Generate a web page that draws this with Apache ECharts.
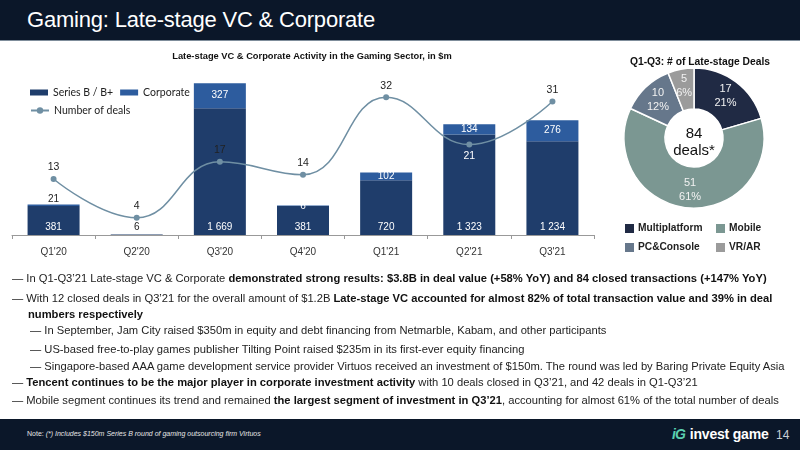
<!DOCTYPE html>
<html>
<head>
<meta charset="utf-8">
<script src="https://cdn.jsdelivr.net/npm/echarts@6/dist/echarts.min.js"></script>
<style>
  html, body { margin: 0; padding: 0; background: #fff; }
  #page { position: relative; width: 800px; height: 450px; overflow: hidden; font-family: "Liberation Sans", Arial, sans-serif; }
  #chart { position: absolute; left: 0; top: 0; width: 800px; height: 450px; }
  .header { position: absolute; left: 0; top: 0; width: 800px; height: 40px; background: #0b1729; border-bottom: 1px solid #7f8d9b; }
  .header span { position: absolute; left: 27px; top: 7px; color: #fff; font-size: 22px; font-weight: 300; letter-spacing: -0.2px; }
  .line { position: absolute; font-size: 11.2px; line-height: 14px; color: #222; white-space: nowrap; }
  .line b { color: #111; }
  .footer { position: absolute; left: 0; top: 419px; width: 800px; height: 31px; background: #0b1729; }
  .note { position: absolute; left: 27px; top: 11px; font-size: 7px; color: #e6e6e6; }
  .note i { font-style: italic; }
  .logo { position: absolute; left: 672px; top: 7px; font-size: 14px; font-weight: bold; color: #fff; letter-spacing: -0.2px; }
  .logo em { color: #5ad0b0; font-style: italic; margin-right: 5px; letter-spacing: -1px; }
  .pageno { position: absolute; left: 776px; top: 9px; font-size: 12px; color: #c9ced4; }
</style>
</head>
<body>
<div id="page">
  <div id="chart"></div>
  <div class="header"><span>Gaming: Late-stage VC &amp; Corporate</span></div>

  <div class="line" style="left:12px; top:271px;">— In Q1-Q3’21 Late-stage VC &amp; Corporate <b>demonstrated strong results: $3.8B in deal value (+58% YoY) and 84 closed transactions (+147% YoY)</b></div>
  <div class="line" style="left:12px; top:291px;">— With 12 closed deals in Q3’21 for the overall amount of $1.2B <b>Late-stage VC accounted for almost 82% of total transaction value and 39% in deal</b></div>
  <div class="line" style="left:28px; top:307px;"><b>numbers respectively</b></div>
  <div class="line" style="left:30px; top:323px;">— In September, Jam City raised $350m in equity and debt financing from Netmarble, Kabam, and other participants</div>
  <div class="line" style="left:30px; top:342px;">— US-based free-to-play games publisher Tilting Point raised $235m in its first-ever equity financing</div>
  <div class="line" style="left:30px; top:359px;">— Singapore-based AAA game development service provider Virtuos received an investment of $150m. The round was led by Baring Private Equity Asia</div>
  <div class="line" style="left:12px; top:375px;">— <b>Tencent continues to be the major player in corporate investment activity</b> with 10 deals closed in Q3’21, and 42 deals in Q1-Q3’21</div>
  <div class="line" style="left:12px; top:393px;">— Mobile segment continues its trend and remained <b>the largest segment of investment in Q3’21</b>, accounting for almost 61% of the total number of deals</div>

  <div class="footer">
    <div class="note">Note: <i>(*) Includes $150m Series B round of gaming outsourcing firm Virtuos</i></div>
    <div class="logo"><em>iG</em>invest game</div>
    <div class="pageno">14</div>
  </div>
</div>

<script>
// bar + line data
var quarters = ["Q1'20", "Q2'20", "Q3'20", "Q4'20", "Q1'21", "Q2'21", "Q3'21"];
var seriesB = [381, 6, 1669, 381, 720, 1323, 1234];
var corporate = [21, null, 327, 6, 102, 134, 276];
var dealCount = [13, 4, 17, 14, 32, 21, 31];

// donut data
var segmentNames = ["Multiplatform", "Mobile", "PC&Console", "VR/AR"];
var segmentDeals = [17, 51, 10, 5];
var segmentShares = [21, 61, 12, 6];
var totalDeals = 84;

var segmentColors = ["#202a44", "#7b9792", "#66778b", "#9b9b9b"];

// 1669 -> "1 669"
function fmt(v) {
  return String(v).replace(/\B(?=(\d{3})+(?!\d))/g, " ");
}

var chart = echarts.init(document.getElementById("chart"));

var pieLegend = {
  orient: "vertical",
  top: 217,
  icon: "rect",
  itemWidth: 11,
  itemHeight: 11,
  itemGap: 6,
  selectedMode: false,
  textStyle: { fontSize: 10.2, fontWeight: "bold", color: "#222", padding: [0, 0, 0, -2] },
};

var option = {
  animation: false,
  textStyle: { fontFamily: "Liberation Sans, Arial, sans-serif" },
  title: [
    {
      text: "Late-stage VC & Corporate Activity in the Gaming Sector, in $m",
      left: 307,
      top: 47,
      textAlign: "center",
      textStyle: { fontSize: 9.3, fontWeight: "bold", color: "#111" },
    },
    {
      text: "Q1-Q3: # of Late-stage Deals",
      left: 695,
      top: 52,
      textAlign: "center",
      textStyle: { fontSize: 10.3, fontWeight: "bold", color: "#111" },
    },
  ],
  legend: [
    {
      data: ["Series B / B+", "Corporate"],
      left: 25,
      top: 82,
      icon: "rect",
      itemWidth: 18,
      itemHeight: 6,
      itemGap: 7,
      selectedMode: false,
      textStyle: { fontFamily: "Lato", fontSize: 10.5, color: "#222" },
    },
    {
      data: ["Number of deals"],
      left: 25,
      top: 100,
      itemWidth: 18,
      itemHeight: 8,
      selectedMode: false,
      textStyle: { fontFamily: "Lato", fontSize: 10.5, color: "#222" },
    },
    Object.assign({ data: ["Multiplatform", "PC&Console"], left: 618 }, pieLegend),
    Object.assign({ data: ["Mobile", "VR/AR"], left: 709 }, pieLegend),
  ],
  grid: { left: 12, right: 206, top: 83, bottom: 215 },
  xAxis: {
    type: "category",
    data: quarters,
    axisLine: { lineStyle: { color: "#999" } },
    axisTick: { show: true, length: 4, lineStyle: { color: "#999" } },
    axisLabel: { color: "#333", fontSize: 10, margin: 12 },
  },
  yAxis: [
    { type: "value", min: 0, max: 2000, show: false, splitLine: { show: false } },
    { type: "value", min: 0, max: 35.3, show: false, splitLine: { show: false } },
  ],
  graphic: [
    {
      type: "text",
      x: 694,
      y: 142,
      z: 100,
      style: {
        text: totalDeals + "\ndeals*",
        fill: "#111",
        font: "15px Liberation Sans, Arial",
        lineHeight: 17,
        align: "center",
        verticalAlign: "middle",
      },
    },
  ],
  series: [
    {
      name: "Series B / B+",
      type: "bar",
      stack: "deal",
      barWidth: 52,
      itemStyle: { color: "#1f3d6b" },
      label: {
        show: true,
        position: "insideBottom",
        distance: 3,
        color: "#fff",
        fontSize: 10,
        formatter: function (p) { return fmt(p.value); },
      },
      data: seriesB.map(function (v, i) {
        // tiny bar, label sits on the axis in dark text
        return i === 1 ? { value: v, label: { color: "#222" } } : v;
      }),
    },
    {
      name: "Corporate",
      type: "bar",
      stack: "deal",
      barWidth: 52,
      itemStyle: { color: "#2d5c9e" },
      label: {
        show: true,
        position: "inside",
        color: "#fff",
        fontSize: 10,
        formatter: function (p) { return fmt(p.value); },
      },
      data: corporate.map(function (v, i) {
        return i === 0 ? { value: v, label: { position: "top", distance: 0, color: "#222" } } : v;
      }),
    },
    {
      name: "Number of deals",
      type: "line",
      yAxisIndex: 1,
      smooth: 0.45,
      symbol: "circle",
      symbolSize: 6,
      itemStyle: { color: "#6f8fa3" },
      lineStyle: { color: "#6f8fa3", width: 1.5 },
      label: { show: true, position: "top", distance: 3, color: "#222", fontSize: 10.5 },
      data: dealCount.map(function (v, i) {
        return i === 5 ? { value: v, label: { position: "bottom", color: "#fff" } } : v;
      }),
    },
    {
      name: "Late-stage deals",
      type: "pie",
      center: [694, 138],
      radius: [29, 70],
      startAngle: 90,
      clockwise: true,
      itemStyle: { borderColor: "#fff", borderWidth: 1.5 },
      label: {
        show: true,
        position: "inside",
        color: "#f2f2f2",
        fontSize: 11,
        lineHeight: 14,
        formatter: function (p) {
          return p.value + "\n" + segmentShares[p.dataIndex] + "%";
        },
      },
      emphasis: { disabled: true },
      data: segmentNames.map(function (n, i) {
        return { name: n, value: segmentDeals[i], itemStyle: { color: segmentColors[i] } };
      }),
    },
  ],
};

chart.setOption(option);
</script>
</body>
</html>
